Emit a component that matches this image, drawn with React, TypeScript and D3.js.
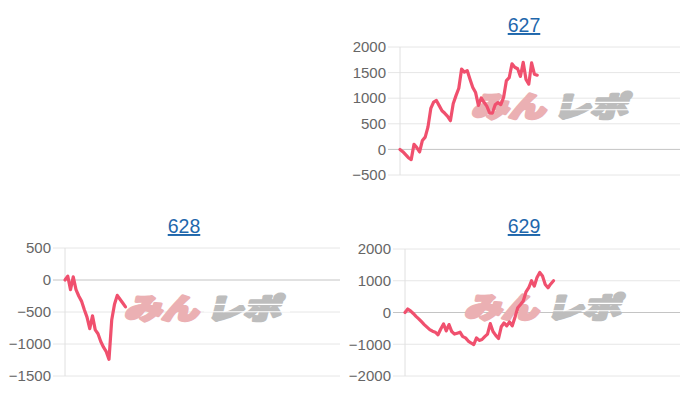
import React from 'react';
import * as d3 from 'd3';

// ---- data ----
const titles = ['627', '628', '629'];
const series627 = [0, -44, -103, -162, -200, 100, 35, -50, 175, 240, 440, 800, 925, 955, 855, 755, 705, 645, 560, 890, 1050, 1195, 1570, 1510, 1540, 1370, 1210, 1110, 860, 1005, 920, 845, 715, 710, 870, 915, 875, 1015, 1345, 1400, 1670, 1605, 1575, 1425, 1700, 1365, 1275, 1690, 1470, 1450];
const series628 = [0, 60, -150, 50, -150, -250, -330, -460, -580, -760, -560, -780, -840, -960, -1050, -1120, -1240, -620, -380, -240, -300, -360, -420];
const series629 = [0, 110, 50, -30, -120, -200, -290, -380, -460, -540, -590, -620, -700, -520, -360, -580, -380, -600, -680, -650, -620, -760, -800, -900, -960, -1010, -800, -880, -850, -760, -680, -350, -600, -720, -820, -450, -330, -420, -300, -420, -150, 150, 250, 360, 650, 780, 1000, 830, 1100, 1260, 1150, 880, 780, 900, 1000];
const ticks627 = [2000, 1500, 1000, 500, 0, -500];
const ticks628 = [500, 0, -500, -1000, -1500];
const ticks629 = [2000, 1000, 0, -1000, -2000];
const xDomainMax = 100;
const watermarkA = 'みん';
const watermarkB = 'レポ';

// ---- layout ----
const panels = [
  { title: titles[0], data: series627, ticks: ticks627, left: 400, right: 680, top: 47, bottom: 175, titleX: 524, titleY: 32, wmX: 465, wmY: 90 },
  { title: titles[1], data: series628, ticks: ticks628, left: 65, right: 340, top: 248, bottom: 376, titleX: 184, titleY: 233, wmX: 118, wmY: 292 },
  { title: titles[2], data: series629, ticks: ticks629, left: 405, right: 680, top: 249, bottom: 376, titleX: 524, titleY: 233, wmX: 458, wmY: 291 },
];

const LINE = '#f0506e';

function Panel({ p }: { p: any }) {
  const x = d3.scaleLinear().domain([0, xDomainMax]).range([p.left, p.right]);
  const y = d3.scaleLinear().domain([d3.min(p.ticks) as number, d3.max(p.ticks) as number]).range([p.bottom, p.top]);
  const line = d3.line<number>().x((_, i) => x(i)).y((d) => y(d));
  const wmW = 160;
  const wmH = 28;
  const wmFont = { fontSize: 31, fontWeight: 900, fontFamily: "'Noto Sans CJK JP', sans-serif" } as any;
  return (
    <g>
      <text x={p.titleX} y={p.titleY} textAnchor="middle" fontSize={19.5} fill="#1f67ac" textDecoration="underline" fontFamily="'Liberation Sans', Arial, sans-serif">{p.title}</text>
      {p.ticks.map((t: number) => (
        <g key={t}>
          <line x1={p.left - 12} x2={p.right} y1={y(t)} y2={y(t)} stroke={t === 0 ? '#c4c4c4' : '#e6e6e6'} strokeWidth={1} />
          <text x={p.left - 14} y={y(t)} dy="0.35em" textAnchor="end" fontSize={15} fill="#666" fontFamily="'Liberation Sans', Arial, sans-serif">{d3.format('d')(t)}</text>
        </g>
      ))}
      <line x1={p.left} x2={p.left} y1={p.top} y2={p.bottom} stroke="#e0e0e0" strokeWidth={1} />
      <g transform={`translate(${p.wmX},${p.wmY + wmH}) skewX(-14) scale(1,0.92)`}>
        <text x={6} y={-1} {...wmFont} fill="#ebb0b3" stroke="#ebb0b3" strokeWidth={3.2} strokeLinejoin="round" textLength={wmW / 2 - 6} lengthAdjust="spacingAndGlyphs">{watermarkA}</text>
        <text x={wmW / 2 + 8} y={-1} {...wmFont} fill="#bdbdbd" stroke="#bdbdbd" strokeWidth={3.2} strokeLinejoin="round" textLength={wmW / 2 - 6} lengthAdjust="spacingAndGlyphs">{watermarkB}</text>
        <line x1={wmW / 2 + 4} x2={wmW + 10} y1={-17} y2={-17} stroke="#fff" strokeWidth={1.5} />
        <line x1={wmW / 2 + 4} x2={wmW + 10} y1={-9} y2={-9} stroke="#fff" strokeWidth={1.2} />
      </g>
      <path d={line(p.data) || ''} fill="none" stroke={LINE} strokeWidth={3.2} strokeLinejoin="round" strokeLinecap="round" />
    </g>
  );
}

export default function App() {
  return (
    <svg width={700} height={400} style={{ position: 'absolute', left: 0, top: 0, background: '#fff' }}>
      <rect width={700} height={400} fill="#fff" />
      {panels.map((p) => (
        <Panel key={p.title} p={p} />
      ))}
    </svg>
  );
}
